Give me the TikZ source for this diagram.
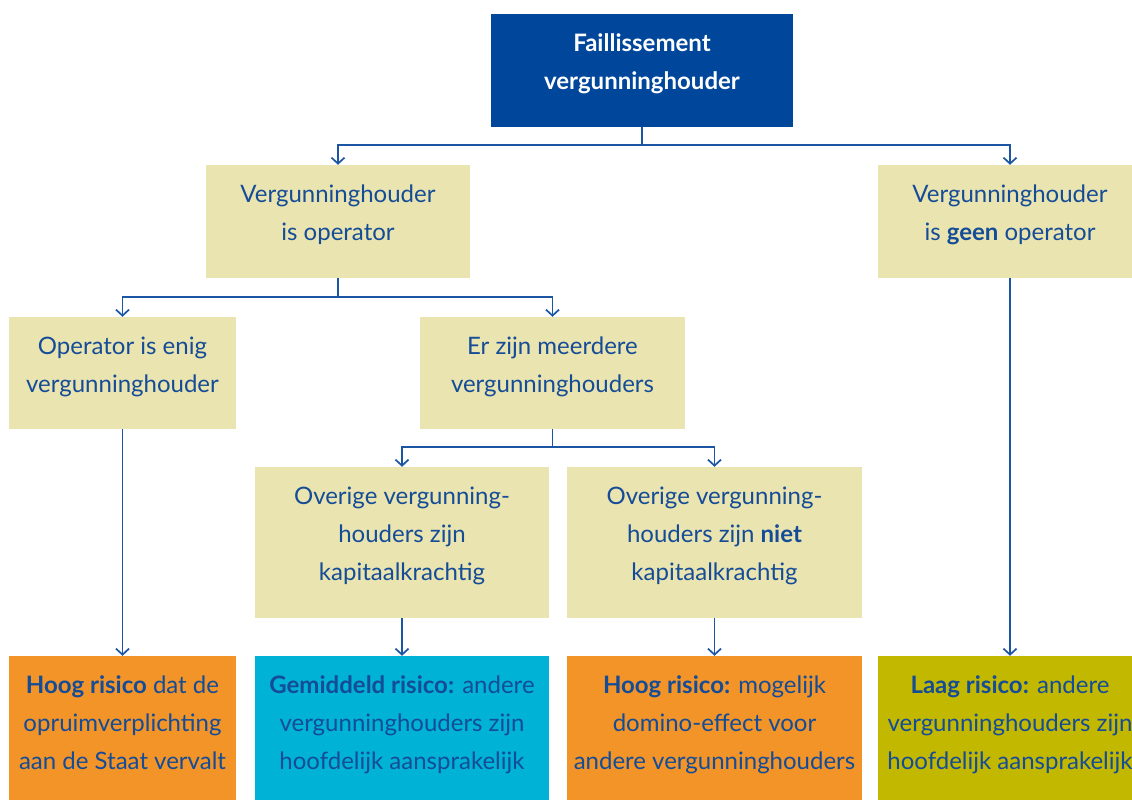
\documentclass[tikz,border=0pt]{standalone}
\usepackage{fontspec}
\setmainfont{Lato}
\usetikzlibrary{arrows.meta}
\definecolor{donkerblauw}{HTML}{00479B}
\definecolor{lijnblauw}{HTML}{1B55A3}
\definecolor{tekstblauw}{HTML}{154C97}
\definecolor{zand}{HTML}{EAE4B0}
\definecolor{oranje}{HTML}{F29427}
\definecolor{cyaan}{HTML}{00B2D6}
\definecolor{olijf}{HTML}{C2B800}

\begin{document}
\begin{tikzpicture}[x=1pt, y=-1pt,
    vak/.style={fill=zand, text=tekstblauw, align=center, inner sep=0pt,
      text depth=17pt, font=\fontsize{24}{38}\selectfont},
    risico/.style={vak, text depth=11pt, minimum height=144pt},
    pijl/.style={draw=lijnblauw, line width=1.7pt,
      -{Straight Barb[length=6pt, width=13pt]}}]

    \useasboundingbox (0, 0) rectangle (1132, 800);
    \clip (0, 0) rectangle (1132, 800);

    \node[vak, fill=donkerblauw, text=white, font=\fontsize{24}{38}\selectfont\bfseries,
      minimum width=302pt, minimum height=113pt] (a) at (642, 70.5)
      {Faillissement\\vergunninghouder};
    \node[vak, minimum width=264pt, minimum height=113pt] (b) at (338, 221.5)
      {Vergunninghouder\\is operator};
    \node[vak, minimum width=264pt, minimum height=113pt] (c) at (1010, 221.5)
      {Vergunninghouder\\is \textbf{geen} operator};
    \node[vak, minimum width=227pt, minimum height=112pt] (d) at (122.5, 373)
      {Operator is enig\\vergunninghouder};
    \node[vak, minimum width=265pt, minimum height=112pt] (e) at (552.5, 373)
      {Er zijn meerdere\\vergunninghouders};
    \node[vak, minimum width=294pt, minimum height=151pt] (f) at (402, 542.5)
      {Overige vergunning-\\houders zijn\\kapitaalkrachtig};
    \node[vak, minimum width=295pt, minimum height=151pt] (g) at (714.5, 542.5)
      {Overige vergunning-\\houders zijn \textbf{niet}\\kapitaalkrachtig};
    \node[risico, fill=oranje, minimum width=227pt] (h) at (122.5, 728)
      {\textbf{Hoog risico} dat de\\opruimverplichting\\aan de Staat vervalt};
    \node[risico, fill=cyaan, minimum width=294pt] (i) at (402, 728)
      {\textbf{Gemiddeld risico:} andere\\vergunninghouders zijn\\hoofdelijk aansprakelijk};
    \node[risico, fill=oranje, minimum width=295pt] (j) at (714.5, 728)
      {\textbf{Hoog risico:} mogelijk\\domino-effect voor\\andere vergunninghouders};
    \node[risico, fill=olijf, minimum width=264pt] (k) at (1010, 728)
      {\textbf{Laag risico:} andere\\vergunninghouders zijn\\hoofdelijk aansprakelijk};

    \draw[pijl] (a.south) -- ++(0, 18) -| (b.north);
    \draw[pijl] (a.south) -- ++(0, 18) -| (c.north);
    \draw[pijl] (b.south) -- ++(0, 19) -| (d.north);
    \draw[pijl] (b.south) -- ++(0, 19) -| (e.north);
    \draw[pijl] (e.south) -- ++(0, 18) -| (f.north);
    \draw[pijl] (e.south) -- ++(0, 18) -| (g.north);
    \draw[pijl] (d) -- (h);
    \draw[pijl] (f) -- (i);
    \draw[pijl] (g) -- (j);
    \draw[pijl] (c) -- (k);

  \end{tikzpicture}
\end{document}
